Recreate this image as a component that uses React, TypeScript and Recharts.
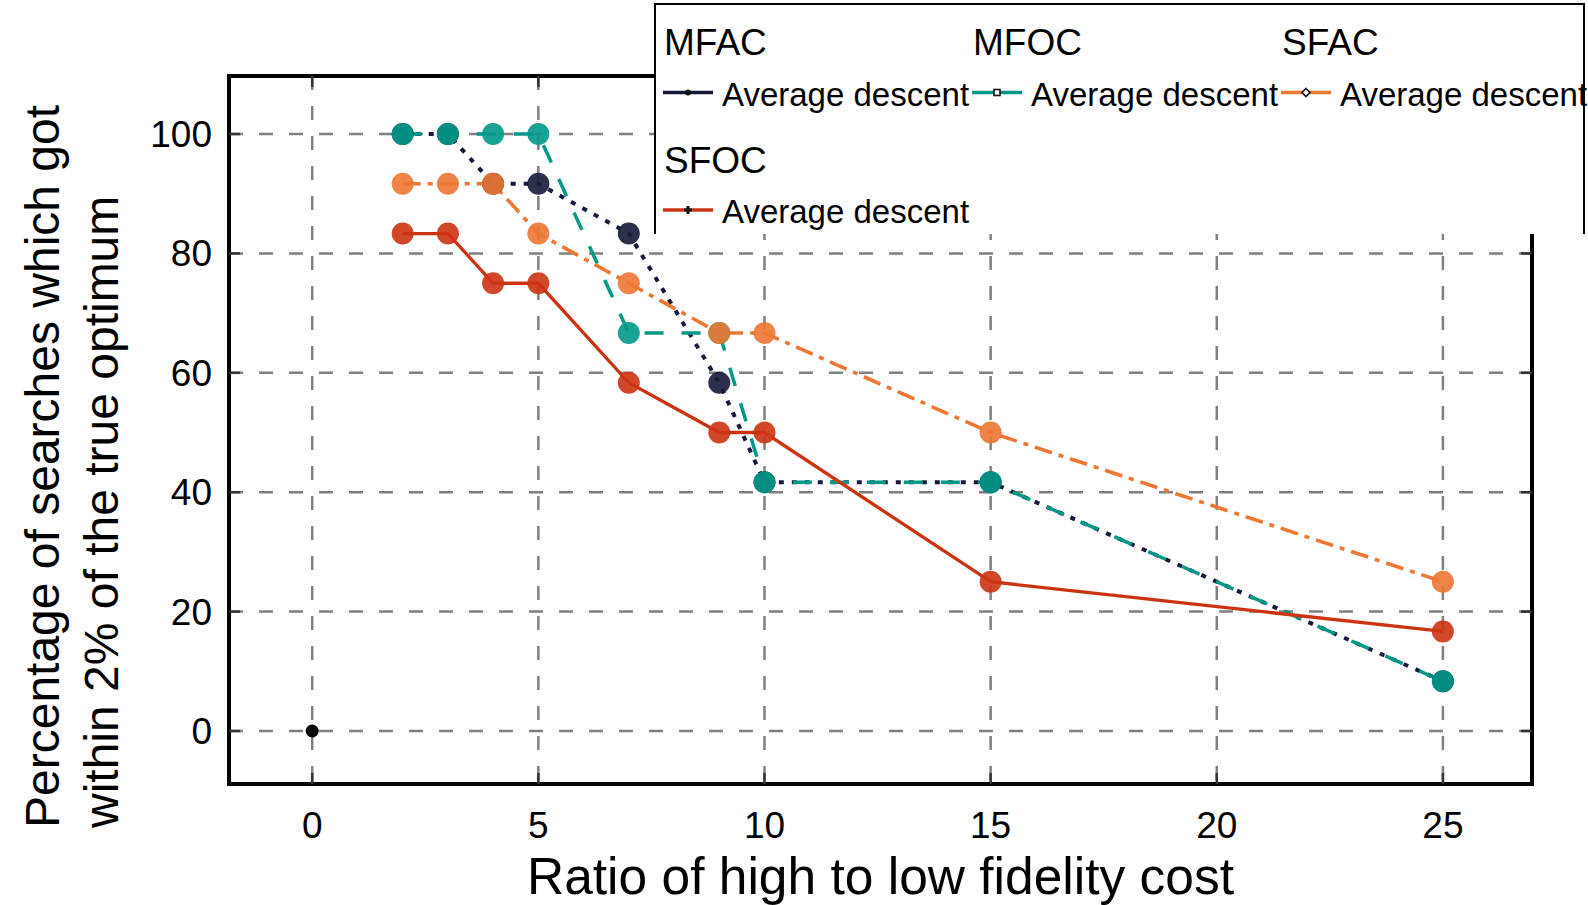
import React from 'react';
import { ComposedChart, Line, XAxis, YAxis, CartesianGrid, Label } from 'recharts';

// Ratio of high to low fidelity cost
const ratios = [2, 3, 4, 5, 7, 9, 10, 15, 25];
// Percentage of searches reaching within 2% of the true optimum
const mfacValues = [100, 100, 91.67, 91.67, 83.33, 58.33, 41.67, 41.67, 8.33];
const mfocValues = [100, 100, 100, 100, 66.67, 66.67, 41.67, 41.67, 8.33];
const sfacValues = [91.67, 91.67, 91.67, 83.33, 75, 66.67, 66.67, 50, 25];
const sfocValues = [83.33, 83.33, 75, 75, 58.33, 50, 50, 25, 16.67];
const originPoint = [{ x: 0, y: 0 }];

const xTicks = [0, 5, 10, 15, 20, 25];
const yTicks = [0, 20, 40, 60, 80, 100];
const seriesNames = ['MFAC', 'MFOC', 'SFAC', 'SFOC'];
const entryLabel = 'Average descent';
const xTitle = 'Ratio of high to low fidelity cost';
const yTitleLines = ['Percentage of searches which got', 'within 2% of the true optimum'];

const FONT = '"Liberation Sans", Arial, Helvetica, sans-serif';
const W = 1588;
const H = 905;
const X_DOMAIN: [number, number] = [-1.84, 26.97];
const Y_DOMAIN: [number, number] = [-8.88, 109.72];

type Style = { color: string; dash?: string; width: number; marker: 'dot' | 'square' | 'diamond' | 'plus' };
const styles: Style[] = [
  { color: '#161a3a', dash: '5 8', width: 4, marker: 'dot' },
  { color: '#009988', dash: '19 18', width: 3.5, marker: 'square' },
  { color: '#ee7733', dash: '18 7 5 7', width: 3.6, marker: 'diamond' },
  { color: '#cc3311', dash: undefined, width: 3.3, marker: 'plus' },
];

const seriesValues = [mfacValues, mfocValues, sfacValues, sfocValues];
const series = seriesNames.map((name, i) => ({
  name,
  ...styles[i],
  data: ratios.map((x, j) => ({ x, y: seriesValues[i][j] })),
}));

const TICK_LEN = 11;
const TICK_COLOR = '#333';
const TICK_FONT = 37;

const BottomTick = (props: any) => {
  const { x, y, payload } = props;
  return (
    <g>
      <line x1={x} x2={x} y1={y} y2={y - TICK_LEN} stroke={TICK_COLOR} strokeWidth={2.5} />
      <text x={x} y={y + 54} textAnchor="middle" fontSize={TICK_FONT} fontFamily={FONT} fill="#000">
        {payload.value}
      </text>
    </g>
  );
};

const LeftTick = (props: any) => {
  const { x, y, payload } = props;
  return (
    <g>
      <line x1={x} x2={x + TICK_LEN} y1={y} y2={y} stroke={TICK_COLOR} strokeWidth={2.5} />
      <text x={x - 17} y={y + 13} textAnchor="end" fontSize={TICK_FONT} fontFamily={FONT} fill="#000">
        {payload.value}
      </text>
    </g>
  );
};

const TopTick = (props: any) => {
  const { x, y } = props;
  return <line x1={x} x2={x} y1={y} y2={y + TICK_LEN} stroke={TICK_COLOR} strokeWidth={2.5} />;
};

const RightTick = (props: any) => {
  const { x, y } = props;
  return <line x1={x} x2={x - TICK_LEN} y1={y} y2={y} stroke={TICK_COLOR} strokeWidth={2.5} />;
};

const XTitle = (props: any) => {
  const vb = props.viewBox;
  return (
    <text x={vb.x + vb.width / 2} y={vb.y + 110} textAnchor="middle" fontSize={51.5} fontFamily={FONT} fill="#000">
      {xTitle}
    </text>
  );
};

const YTitle = (props: any) => {
  const vb = props.viewBox;
  const right = vb.x + vb.width;
  const startY = vb.y + vb.height + 44;
  const baseX = [right - 170, right - 111.5];
  return (
    <g>
      {yTitleLines.map((line, i) => (
        <text
          key={i}
          x={baseX[i]}
          y={startY}
          transform={`rotate(-90, ${baseX[i]}, ${startY})`}
          textAnchor="start"
          fontSize={48}
          fontFamily={FONT}
          fill="#000"
        >
          {line}
        </text>
      ))}
    </g>
  );
};

const LegendMarker = ({ kind, cx, cy }: { kind: Style['marker']; cx: number; cy: number }) => {
  if (kind === 'dot') return <circle cx={cx} cy={cy} r={3} fill="#111" />;
  if (kind === 'square')
    return <rect x={cx - 3} y={cy - 3} width={6} height={6} fill="#fff" stroke="#111" strokeWidth={1.6} />;
  if (kind === 'diamond')
    return (
      <path
        d={`M${cx} ${cy - 4} L${cx + 4} ${cy} L${cx} ${cy + 4} L${cx - 4} ${cy} Z`}
        fill="#fff"
        stroke="#111"
        strokeWidth={1.6}
      />
    );
  return (
    <g fill="#111">
      <rect x={cx - 4} y={cy - 1.5} width={8} height={3} />
      <rect x={cx - 1.5} y={cy - 4} width={3} height={8} />
    </g>
  );
};

const LegendBox = () => {
  const left = 655;
  const top = 4;
  const right = 1584;
  const bottom = 234;
  return (
    <svg width={W} height={H} style={{ position: 'absolute', left: 0, top: 0, pointerEvents: 'none' }}>
      <rect x={left} y={top} width={right - left} height={bottom - top} fill="#fff" />
      {series.map((s, i) => {
        const col = i % 3;
        const row = Math.floor(i / 3);
        const tx = 664 + col * 309;
        const tb = 55 + row * 117.5;
        const ly = tb + 37.5;
        return (
          <g key={s.name}>
            <text x={tx} y={tb} fontSize={37} fontFamily={FONT} fill="#000">
              {s.name}
            </text>
            <line x1={tx - 1} x2={tx + 49} y1={ly} y2={ly} stroke={s.color} strokeWidth={3.5} />
            <LegendMarker kind={s.marker} cx={tx + 24} cy={ly} />
            <text x={tx + 58} y={tb + 50.5} fontSize={33} fontFamily={FONT} fill="#000">
              {entryLabel}
            </text>
          </g>
        );
      })}
      <polyline
        points={`${left},${bottom} ${left},${top} ${right},${top} ${right},${bottom}`}
        fill="none"
        stroke="#000"
        strokeWidth={2}
      />
    </svg>
  );
};

export default function App() {
  const axisLine = { stroke: '#000', strokeWidth: 4, strokeLinecap: 'square' as const };
  return (
    <div style={{ position: 'absolute', left: 0, top: 0, width: W, height: H, fontFamily: FONT, background: '#fff' }}>
      <ComposedChart width={W} height={H} margin={{ top: 75, right: 55, bottom: 120, left: 228 }}>
        <CartesianGrid stroke="#808080" strokeWidth={2.5} strokeDasharray="14 16" />
        <XAxis
          xAxisId={0}
          type="number"
          dataKey="x"
          domain={X_DOMAIN}
          ticks={xTicks}
          interval={0}
          allowDataOverflow
          height={1}
          tickSize={0}
          tickMargin={0}
          tickLine={false}
          axisLine={axisLine}
          tick={<BottomTick />}
        >
          <Label content={<XTitle />} />
        </XAxis>
        <XAxis
          xAxisId="top"
          orientation="top"
          type="number"
          dataKey="x"
          domain={X_DOMAIN}
          ticks={xTicks}
          interval={0}
          allowDataOverflow
          height={1}
          tickSize={0}
          tickMargin={0}
          tickLine={false}
          axisLine={axisLine}
          tick={<TopTick />}
        />
        <YAxis
          yAxisId={0}
          type="number"
          domain={Y_DOMAIN}
          ticks={yTicks}
          interval={0}
          allowDataOverflow
          width={1}
          tickSize={0}
          tickMargin={0}
          tickLine={false}
          axisLine={axisLine}
          tick={<LeftTick />}
        >
          <Label content={<YTitle />} />
        </YAxis>
        <YAxis
          yAxisId="right"
          orientation="right"
          type="number"
          domain={Y_DOMAIN}
          ticks={yTicks}
          interval={0}
          allowDataOverflow
          width={1}
          tickSize={0}
          tickMargin={0}
          tickLine={false}
          axisLine={axisLine}
          tick={<RightTick />}
        />
        <Line
          data={originPoint}
          dataKey="y"
          name="origin"
          stroke="none"
          isAnimationActive={false}
          activeDot={false}
          dot={{ r: 6.5, fill: '#000', stroke: 'none' }}
        />
        {series.map((s) => (
          <Line
            key={s.name}
            data={s.data}
            dataKey="y"
            name={s.name}
            type="linear"
            stroke={s.color}
            strokeWidth={s.width}
            strokeDasharray={s.dash}
            isAnimationActive={false}
            activeDot={false}
            dot={{ r: 11, fill: s.color, fillOpacity: 0.9, stroke: 'none', strokeDasharray: 'none' }}
          />
        ))}
      </ComposedChart>
      <LegendBox />
    </div>
  );
}
